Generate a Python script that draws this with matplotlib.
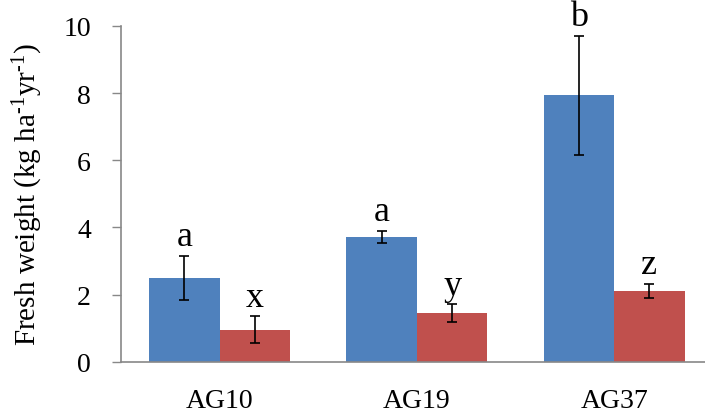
import matplotlib.pyplot as plt
import numpy as np

plt.rcParams['font.family'] = 'Liberation Serif'
plt.rcParams['mathtext.fontset'] = 'custom'
plt.rcParams['mathtext.rm'] = 'Liberation Serif'
plt.rcParams['mathtext.it'] = 'Liberation Serif:italic'

sites = ['AG10', 'AG19', 'AG37']
blue_vals = [2.50, 3.72, 7.93]
blue_err = [0.65, 0.17, 1.77]
red_vals = [0.95, 1.44, 2.11]
red_err = [0.40, 0.27, 0.20]
blue_letters = ['a', 'a', 'b']
red_letters = ['x', 'y', 'z']

fig = plt.figure(figsize=(7.05, 4.14), dpi=100)
ax = fig.add_axes([0.1716, 0.1239, 0.8284, 0.8109])

x = np.arange(len(sites))
w = 0.357
ax.bar(x - w/2, blue_vals, w, color='#4F81BD')
ax.bar(x + w/2, red_vals, w, color='#C0504D')
ax.errorbar(x - w/2, blue_vals, yerr=blue_err, fmt='none', ecolor='black',
            elinewidth=1.2, capsize=3.5, capthick=1.2)
ax.errorbar(x + w/2, red_vals, yerr=red_err, fmt='none', ecolor='black',
            elinewidth=1.2, capsize=3.5, capthick=1.2)

for i in range(len(sites)):
    ax.text(x[i] - w/2, blue_vals[i] + blue_err[i] + 0.08, blue_letters[i],
            ha='center', va='bottom', fontsize=26)
    ax.text(x[i] + w/2, red_vals[i] + red_err[i] + 0.08, red_letters[i],
            ha='center', va='bottom', fontsize=26)

ax.set_xlim(-0.5, 2.46)
ax.set_ylim(0, 10)
ax.set_yticks([0, 2, 4, 6, 8, 10])
ax.set_xticks(x)
ax.set_xticklabels(sites)
ax.tick_params(axis='x', length=0, pad=19, labelsize=20)
ax.tick_params(axis='y', length=6.5, width=1, color='#888888', pad=15, labelsize=20)
for s in ['top', 'right']:
    ax.spines[s].set_visible(False)
for s in ['left', 'bottom']:
    ax.spines[s].set_color('#888888')
    ax.spines[s].set_linewidth(1.2)

ax.set_ylabel(r'Fresh weight (kg ha$^{\text{-1}}$yr$^{\text{-1}}$)', fontsize=21, labelpad=13)

plt.savefig('out.png')
